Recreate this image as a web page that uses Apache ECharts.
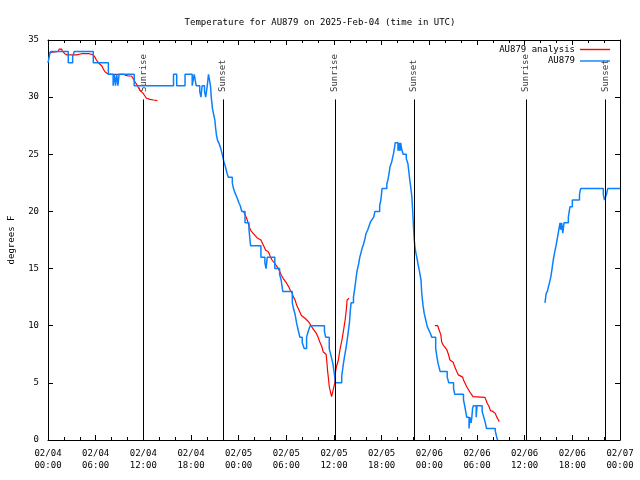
<!DOCTYPE html>
<html>
<head>
<meta charset="utf-8">
<script src="https://cdn.jsdelivr.net/npm/echarts@6/dist/echarts.min.js"></script>
<style>html,body{margin:0;padding:0;background:#fff}#c{width:640px;height:480px}</style>
</head>
<body>
<div id="c"></div>
<script>
// ---- data (hours since 2025-02-04 00:00 UTC, degrees F) ----
const titleText = 'Temperature for AU879 on 2025-Feb-04 (time in UTC)';
const xTickLabels = ['02/04\n00:00','02/04\n06:00','02/04\n12:00','02/04\n18:00','02/05\n00:00','02/05\n06:00','02/05\n12:00','02/05\n18:00','02/06\n00:00','02/06\n06:00','02/06\n12:00','02/06\n18:00','02/07\n00:00'];
const sunNames = ['Sunrise','Sunset','Sunrise','Sunset','Sunrise','Sunset'];
const sunHours = [12.0, 22.0, 36.1, 46.05, 60.15, 70.2];

const observed = [
[0,33],[0.2,33.7],[0.35,34],[2.55,33],[3.1,33.5],[3.3,34],[5.7,33],[7.6,32],[8.2,31],[8.35,32],[8.5,31],[8.65,32],[8.8,31],[8.95,32],
[10.85,31],[15.8,32],[16.2,31],[17.25,32],[18.15,31],[18.4,32],[18.65,31],[19.1,30.5],[19.25,30],[19.4,31],[19.7,30.5],[19.85,30],
[20.05,31],[20.2,32],[20.45,31],[20.55,30],[20.7,29],[20.85,28.5],[21.0,28],[21.1,27.3],[21.2,26.7],[21.35,26.2],[21.5,26],
[21.75,25.5],[22.0,24.8],[22.15,24.3],[22.3,24],[22.55,23.3],[22.7,23],[23.2,22.5],[23.35,22],[23.55,21.6],[23.8,21.2],[24.0,20.8],
[24.2,20.5],[24.4,20],[24.8,19],[25.3,18.4],[25.5,17],[26.8,16],[27.3,15.5],[27.45,15],[27.6,16],[28.55,15],[29.15,14.5],[29.35,14],
[29.55,13],[30.75,12],[30.9,11.5],[31.1,11],[31.3,10.2],[31.5,9.6],[31.7,9],[32.0,8.5],[32.25,8],[32.55,9],[32.75,9.5],[33.0,10],
[34.8,9.5],[34.95,9],[35.4,8],[35.65,7.3],[35.85,6.7],[36.0,6],[36.1,5.5],[36.2,5],[36.97,5.6],[37.15,6.5],[37.3,7.2],[37.5,8],
[37.65,8.7],[37.8,9.5],[37.95,10.3],[38.05,11.3],[38.15,12],[38.45,12.5],[38.6,13.2],[38.75,14],[38.9,14.8],[39.1,15.4],[39.25,16],
[39.4,16.4],[39.55,16.8],[39.7,17.1],[39.9,17.6],[40.0,18],[40.25,18.4],[40.45,18.8],[40.6,19.1],[40.8,19.3],[41.0,19.5],[41.15,20],
[41.75,20.5],[41.9,21],[42.05,22],[42.65,22.4],[42.8,22.8],[42.95,23.4],[43.05,23.9],[43.25,24.3],[43.35,24.6],[43.5,25.1],[43.6,25.5],
[43.7,26],[44.05,25.3],[44.2,26],[44.3,25.3],[44.4,26],[44.5,25.5],[44.7,25],[45.1,24.6],[45.3,24.2],[45.45,23.3],[45.55,22.7],
[45.7,21.9],[45.8,21.3],[45.9,20.1],[46.0,18.7],[46.1,17.5],[46.2,16.8],[46.3,16.4],[46.45,15.9],[46.6,15.3],[46.75,14.8],[46.95,14],
[47.05,12.8],[47.2,11.8],[47.35,11.1],[47.55,10.5],[47.75,9.9],[47.95,9.6],[48.15,9.3],[48.3,9],[48.8,8],[48.95,7.3],[49.1,6.7],
[49.35,6],[50.25,5.5],[50.45,5],[51.05,4.5],[51.2,4],[52.3,3.5],[52.45,3],[52.7,2],[53.0,1],[53.1,2],[53.25,1.5],[53.35,2],[53.45,2.8],
[53.55,3],[53.9,2],[54.0,3],[54.65,2.5],[54.85,2],[55.05,1.5],[55.2,1],[56.3,0.8],[56.5,0.2],[56.6,0],
[56.6,null],
[62.56,12],[62.7,12.8],[62.85,13],[63.1,13.7],[63.3,14.3],[63.45,15],[63.6,15.75],[63.8,16.5],[63.95,17],[64.1,17.6],[64.25,18.2],
[64.45,19],[64.55,18.4],[64.65,19],[64.8,18.1],[64.95,19],[65.5,19.5],[65.7,20.4],[66.0,21],[66.9,21.5],[67.05,22],[69.9,21.5],
[70.05,21],[70.3,21.5],[70.45,22],[72,22]
];

const analysis = [
[0.15,33.9],[0.3,34.0],[1.3,34.0],[1.4,34.2],[1.7,34.2],[1.85,34.0],[2.1,33.8],[2.4,33.7],[3.6,33.7],[4.2,33.8],[5.2,33.8],[5.7,33.7],
[5.9,33.5],[6.1,33.25],[6.3,33.05],[6.55,32.9],[6.8,32.7],[7.0,32.4],[7.2,32.2],[7.4,32.1],[7.6,32.0],[9.5,32.0],[9.8,31.9],[10.1,31.85],
[10.5,31.85],[10.75,31.6],[10.95,31.35],[11.2,31.06],[11.4,30.8],[11.6,30.6],[12.0,30.3],[12.2,30.1],[12.4,29.9],[12.85,29.8],
[13.3,29.75],[13.76,29.7],
[13.76,null],
[24.6,20.0],[24.75,19.8],[25.0,19.4],[25.2,19.0],[25.35,18.6],[25.55,18.3],[25.8,18.1],[26.05,17.9],[26.3,17.7],[26.5,17.55],[26.8,17.5],
[27.0,17.2],[27.2,16.9],[27.4,16.6],[27.7,16.5],[27.85,16.3],[28.0,16.0],[28.2,15.75],[28.45,15.6],[28.6,15.4],[28.8,15.2],[29.0,15.0],
[29.2,14.7],[29.4,14.4],[29.6,14.15],[29.8,14.0],[30.05,13.7],[30.3,13.4],[30.5,13.1],[30.7,12.9],[30.9,12.5],[31.1,12.25],[31.3,11.8],
[31.5,11.5],[31.7,11.2],[31.9,10.9],[32.1,10.8],[32.35,10.65],[32.55,10.6],[32.8,10.35],[33.0,10.2],[33.2,9.9],[33.4,9.75],[33.6,9.5],
[33.8,9.3],[34.0,9.0],[34.2,8.6],[34.45,8.2],[34.65,7.7],[34.9,7.6],[35.0,7.5],[35.1,6.85],[35.2,6.0],[35.3,5.4],[35.4,4.7],[35.55,4.2],
[35.7,3.8],[35.9,3.8],[36.0,4.7],[36.1,5.0],[36.2,6.0],[36.3,6.4],[36.55,7.0],[36.75,7.9],[37.0,8.75],[37.2,9.6],[37.4,10.5],[37.55,11.4],
[37.65,12.25],[37.7,12.4],[37.9,12.4],
[37.9,null],
[48.7,10.0],[49.05,10.0],[49.3,9.5],[49.45,9.2],[49.55,8.6],[49.75,8.3],[50.0,8.2],[50.2,7.9],[50.4,7.5],[50.6,7.0],[50.8,6.9],[51.0,6.8],
[51.2,6.4],[51.45,6.0],[51.65,5.7],[51.85,5.55],[52.2,5.5],[52.3,5.25],[52.5,4.96],[52.7,4.66],[52.9,4.5],[53.1,4.2],[53.3,4.0],[53.5,3.8],
[53.75,3.73],[55.0,3.73],[55.1,3.6],[55.3,3.2],[55.5,2.95],[55.7,2.57],[56.0,2.5],[56.3,2.33],[56.5,2.0],[56.7,1.75],[56.8,1.6]
];

// ---- styling ----
const FONT = 'DejaVu Sans Mono';
const txt = {fontFamily: FONT, fontSize: 9, color: '#000'};
const black = {color: '#000', width: 1};
const sunLineTop = 29.8;    // top of the vertical event lines (y value)
const sunLabelBase = 30.45; // event labels start here
const RED = '#ff0000', BLUE = '#0a80ff';

const chart = echarts.init(document.getElementById('c'), null, {renderer: 'canvas'});
const baseX = {
  type: 'value', min: 0, max: 72, interval: 6,
  axisLine: {show: true, onZero: false, lineStyle: black},
  axisTick: {show: true, inside: true, length: 5, lineStyle: black},
  minorTick: {show: true, splitNumber: 3, length: 3, lineStyle: black},
  splitLine: {show: false}, minorSplitLine: {show: false}
};
const baseY = {
  type: 'value', min: 0, max: 35, interval: 5,
  axisLine: {show: true, onZero: false, lineStyle: black},
  axisTick: {show: true, inside: true, length: 5, lineStyle: black},
  splitLine: {show: false}
};
chart.setOption({
  animation: false,
  backgroundColor: '#fff',
  title: {text: titleText, left: 'center', top: 13, textStyle: Object.assign({fontWeight: 'normal'}, txt)},
  legend: {
    data: [{name: 'AU879 analysis', icon: 'rect'}, {name: 'AU879', icon: 'rect'}],
    orient: 'vertical', right: 30, top: 45, padding: 0, align: 'right',
    itemWidth: 30, itemHeight: 1.4, itemGap: 2.5, textStyle: txt, selectedMode: false
  },
  grid: {left: 48, right: 20, top: 40, bottom: 40, containLabel: false, outerBoundsMode: 'none'},
  xAxis: [
    Object.assign({}, baseX, {position: 'bottom',
      axisLabel: {show: true, showMinLabel: true, showMaxLabel: true, margin: 8, lineHeight: 12,
        fontFamily: FONT, fontSize: 9, color: '#000',
        formatter: v => xTickLabels[Math.round(v / 6)]}}),
    Object.assign({}, baseX, {position: 'top', axisLabel: {show: false}})
  ],
  yAxis: [
    Object.assign({}, baseY, {position: 'left',
      axisLabel: {show: true, margin: 9, fontFamily: FONT, fontSize: 9, color: '#000'},
      name: 'degrees F', nameLocation: 'middle', nameGap: 32, nameRotate: 90, nameTextStyle: txt}),
    Object.assign({}, baseY, {position: 'right', axisLabel: {show: false}})
  ],
  series: [
    {
      type: 'scatter', name: 'sun', xAxisIndex: 0, yAxisIndex: 0, symbolSize: 0, silent: true, z: 1,
      data: sunHours.map((t, i) => ({value: [t, sunLabelBase], name: sunNames[i]})),
      label: {show: true, formatter: '{b}', position: 'inside', rotate: 90, align: 'left', verticalAlign: 'middle',
        fontFamily: FONT, fontSize: 9, color: '#000'},
      markLine: {
        silent: true, symbol: 'none', animation: false, label: {show: false},
        lineStyle: {color: '#000', width: 1, type: 'solid'},
        emphasis: {disabled: true},
        data: sunHours.map(t => [{coord: [t, 0]}, {coord: [t, sunLineTop]}])
      }
    },
    {
      type: 'line', name: 'AU879 analysis', data: analysis, showSymbol: false, symbol: 'none',
      connectNulls: false, z: 2,
      lineStyle: {color: RED, width: 1.2}, itemStyle: {color: RED}
    },
    {
      type: 'line', name: 'AU879', data: observed, step: 'end', showSymbol: false, symbol: 'none',
      connectNulls: false, z: 3,
      lineStyle: {color: BLUE, width: 1.5}, itemStyle: {color: BLUE}
    }
  ]
});
</script>
</body>
</html>
